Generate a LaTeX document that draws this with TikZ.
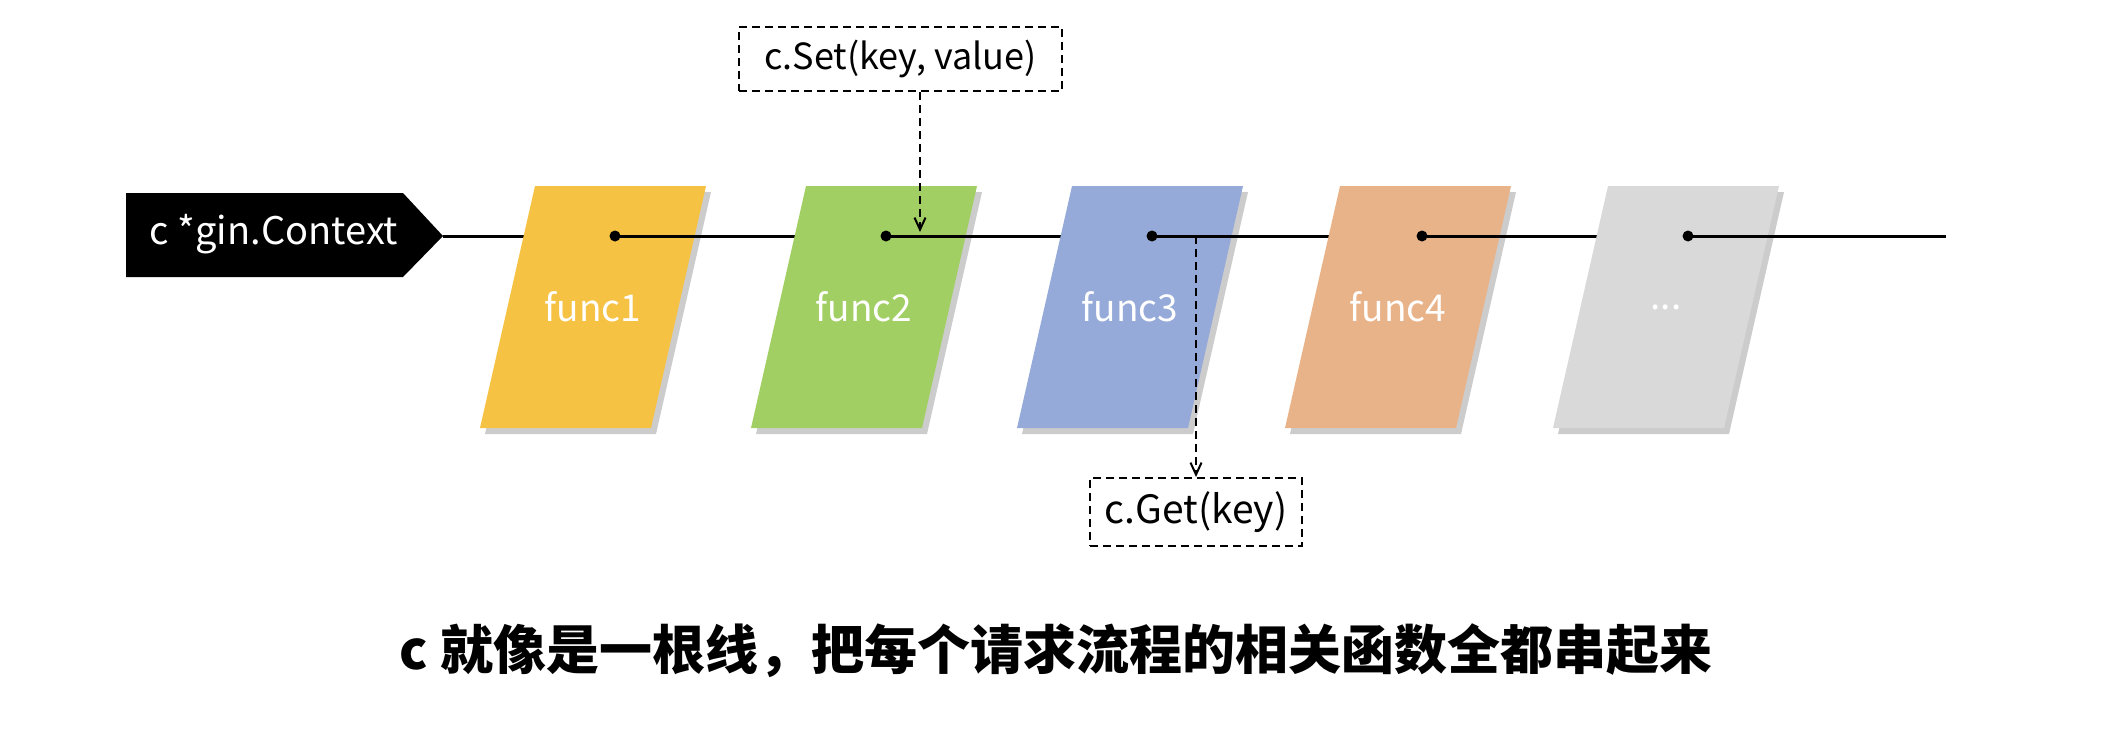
\documentclass[tikz,border=0pt]{standalone}
\usepackage{fontspec}
\setmainfont{Noto Sans CJK SC}
\usetikzlibrary{shadows,arrows.meta,calc}
\definecolor{cyel}{HTML}{F5C243}
\definecolor{cgrn}{HTML}{A1CF64}
\definecolor{cblu}{HTML}{95AAD8}
\definecolor{cora}{HTML}{E9B38A}
\definecolor{cgry}{HTML}{D9D9D9}
\tikzset{
  wire/.style={line width=3pt, black},
  dotmark/.style={circle, fill=black, inner sep=0pt, minimum size=11pt},
  funcshape/.style={drop shadow={shadow xshift=5pt, shadow yshift=-6pt, opacity=0.25, fill=black!80}},
  funclabel/.style={text=white, font=\fontsize{37}{44}\selectfont},
  dashbox/.style={draw, line width=2pt, dash pattern=on 8pt off 5pt, inner sep=0pt},
  dasharrow/.style={line width=2pt, dash pattern=on 8pt off 5pt, -{Straight Barb[length=12pt,width=11pt,line width=2pt]}}
}
\newcommand{\funcbox}[4]{% x0, color, name, label
  \fill[#2, funcshape] (#1,186) -- ++(171,0) -- ++(-55,242) -- ++(-171,0) -- cycle;
  \node[funclabel] (#3) at (#1+58,307) {#4};
}
\begin{document}
\begin{tikzpicture}[x=1pt,y=-1pt]
\useasboundingbox (0,0) rectangle (2108,734);
% tag
\fill[black] (126,193) -- (403,193) -- (443,236) -- (403,277) -- (126,277) -- cycle;
\node[text=white, font=\fontsize{38}{44}\selectfont] (tag) at (274,234) {c *gin.Context};
\coordinate (tip) at (443,236);
% dot positions
\coordinate (d1) at (615,236);
\coordinate (d2) at (886,236);
\coordinate (d3) at (1152,236);
\coordinate (d4) at (1422,236);
\coordinate (d5) at (1688,236);
\coordinate (dend) at (1946,236);
\draw[wire] (tip) -- (d1);
\funcbox{535}{cyel}{f1}{func1}
\node[dotmark] at (d1) {};
\draw[wire] (d1) -- (d2);
\funcbox{806}{cgrn}{f2}{func2}
\node[dotmark] at (d2) {};
\draw[wire] (d2) -- (d3);
\funcbox{1072}{cblu}{f3}{func3}
\node[dotmark] at (d3) {};
\draw[wire] (d3) -- (d4);
\funcbox{1340}{cora}{f4}{func4}
\node[dotmark] at (d4) {};
\draw[wire] (d4) -- (d5);
\funcbox{1608}{cgry}{f5}{...}
\node[dotmark] at (d5) {};
\draw[wire] (d5) -- (dend);
% set / get
\node[dashbox, minimum width=323pt, minimum height=64pt, font=\fontsize{36}{42}\selectfont] (set) at (900.5,59) {c.Set(key, value)};
\coordinate (sp) at (920,236);
\draw[dasharrow] (set.south -| sp) -- ($(sp)+(0,-4)$);
\coordinate (gp) at (1196,236);
\node[dashbox, minimum width=212pt, minimum height=68pt, font=\fontsize{39}{46}\selectfont] (get) at (1196,512) {c.Get(key)};
\draw[dasharrow] (gp) -- (get.north);
% title
\node[font=\fontsize{53}{62}\selectfont\bfseries] (title) at (1056,651) {c 就像是一根线，把每个请求流程的相关函数全都串起来};
\end{tikzpicture}
\end{document}
